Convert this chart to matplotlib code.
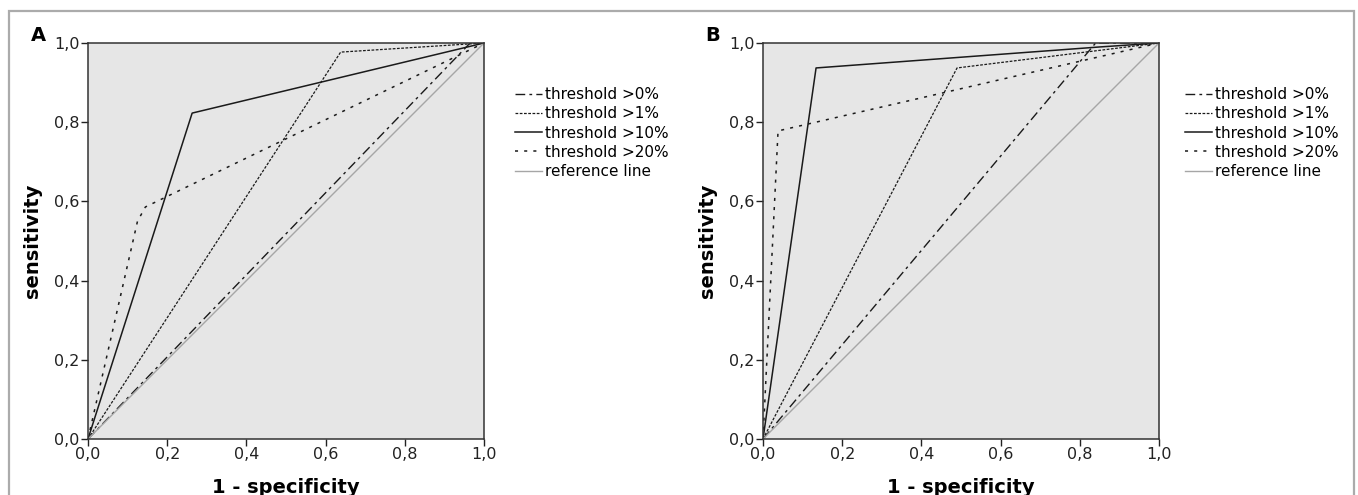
import matplotlib
matplotlib.use('Agg')
import matplotlib.pyplot as plt
from matplotlib.patches import Rectangle
from matplotlib.ticker import FuncFormatter

# ROC points (1 - specificity, sensitivity)
a_x0 = [0.0, 0.965, 1.0]
a_y0 = [0.0, 1.0, 1.0]
a_x1 = [0.0, 0.638, 1.0]
a_y1 = [0.0, 0.977, 1.0]
a_x10 = [0.0, 0.263, 1.0]
a_y10 = [0.0, 0.823, 1.0]
a_x20 = [0.0, 0.125, 0.145, 1.0]
a_y20 = [0.0, 0.55, 0.586, 1.0]

b_x0 = [0.0, 0.84, 1.0]
b_y0 = [0.0, 1.0, 1.0]
b_x1 = [0.0, 0.49, 1.0]
b_y1 = [0.0, 0.937, 1.0]
b_x10 = [0.0, 0.134, 0.85, 1.0]
b_y10 = [0.0, 0.937, 0.99, 1.0]
b_x20 = [0.0, 0.038, 1.0]
b_y20 = [0.0, 0.778, 1.0]

ref_x = [0.0, 1.0]
ref_y = [0.0, 1.0]

labels = ['threshold >0%', 'threshold >1%', 'threshold >10%',
          'threshold >20%', 'reference line']
ticks = [0.0, 0.2, 0.4, 0.6, 0.8, 1.0]

W, H = 1358, 495
fig = plt.figure(figsize=(W / 100, H / 100), dpi=100)

# grey frame round the whole figure (bottom edge is cut off)
fig.patches.append(Rectangle((9 / W, -0.1), (1354 - 9) / W, 1.1 - 11 / H,
                             transform=fig.transFigure, fill=False,
                             edgecolor='#ababab', linewidth=1.6, clip_on=False))

comma = FuncFormatter(lambda v, p: ('%.1f' % v).replace('.', ','))


def panel(left, letter, curves, leg_x):
    ax = fig.add_axes([left / W, 1 - 439 / H, 396 / W, 396 / H])
    ax.set_facecolor('#e6e6e6')
    styles = [dict(color='#1a1a1a', lw=1.0, ls=(0, (7, 3, 2, 3))),
              dict(color='#1a1a1a', lw=0.9, ls=(0, (2.2, 1.2))),
              dict(color='#1a1a1a', lw=1.1, ls='-'),
              dict(color='#1a1a1a', lw=1.1, ls=(0, (2, 4))),
              dict(color='#a6a6a6', lw=1.0, ls='-')]
    for (xs, ys), st, lab in zip(curves, styles, labels):
        ax.plot(xs, ys, label=lab, **st)
    ax.set_xlim(0, 1)
    ax.set_ylim(0, 1)
    ax.set_xticks(ticks)
    ax.set_yticks(ticks)
    ax.xaxis.set_major_formatter(comma)
    ax.yaxis.set_major_formatter(comma)
    ax.tick_params(direction='out', length=5, width=1, labelsize=11.5,
                   pad=1, colors='#222222')
    for s in ax.spines.values():
        s.set_color('#333333')
        s.set_linewidth(1.1)
    ax.set_xlabel('1 - specificity', fontsize=14, fontweight='bold', labelpad=11)
    ax.set_ylabel('sensitivity', fontsize=14, fontweight='bold', labelpad=9)
    ax.text(-0.145, 1.02, letter, transform=ax.transAxes, fontsize=14,
            fontweight='bold', ha='left', va='center')
    ax.legend(loc='upper left', bbox_to_anchor=(leg_x / W, 1 - 87 / H),
              bbox_transform=fig.transFigure, frameon=False, fontsize=11,
              borderpad=0, borderaxespad=0, handlelength=1.75,
              handletextpad=0.2, labelspacing=0.28)
    return ax


panel(88, 'A', [(a_x0, a_y0), (a_x1, a_y1), (a_x10, a_y10),
                (a_x20, a_y20), (ref_x, ref_y)], 515)
panel(763, 'B', [(b_x0, b_y0), (b_x1, b_y1), (b_x10, b_y10),
                 (b_x20, b_y20), (ref_x, ref_y)], 1185)

fig.savefig('out.png', dpi=100)
